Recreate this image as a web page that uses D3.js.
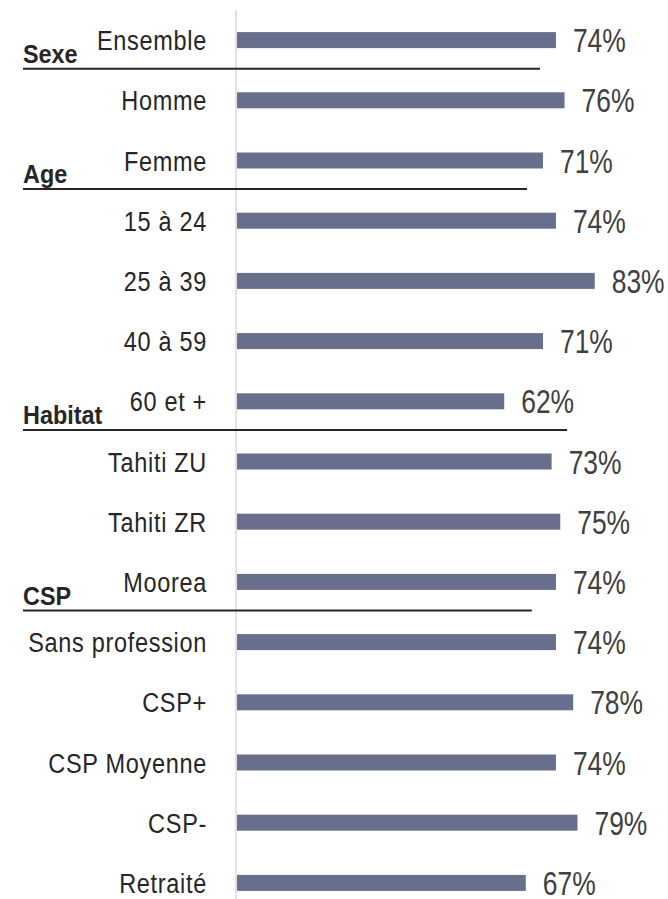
<!DOCTYPE html>
<html lang="fr">

<head>
	<meta charset="UTF-8">
	<script src="https://cdn.jsdelivr.net/npm/d3@7"></script>
	<title>Taux par profil</title>
</head>
<style>
	body {
		margin: 0;
		background: #fff;
		font-family: "Liberation Sans", Arial, sans-serif;
	}

	.label {
		font-size: 27px;
		fill: #262626;
		letter-spacing: 0.8px;
	}

	.value {
		font-size: 33px;
		fill: #404040;
	}

	.group {
		font-size: 26px;
		font-weight: bold;
		fill: #262626;
	}
</style>

<body>
	<svg id="chart" width="668" height="899"></svg>
	<script>
		// categories, top to bottom
		const categories = ['Ensemble', 'Homme', 'Femme', '15 à 24', '25 à 39', '40 à 59', '60 et +',
			'Tahiti ZU', 'Tahiti ZR', 'Moorea', 'Sans profession', 'CSP+', 'CSP Moyenne', 'CSP-', 'Retraité'];
		const values = [74, 76, 71, 74, 83, 71, 62, 73, 75, 74, 74, 78, 74, 79, 67];

		// group headers and the index of the category just above their rule
		const groups = ['Sexe', 'Age', 'Habitat', 'CSP'];
		const groupAfter = [0, 2, 6, 9];
		// where each header rule stops, in % units of the x scale
		const groupRuleEnd = [70.3, 67.3, 76.6, 68.4];

		const width = 668;
		const height = 899;
		const svg = d3.select('#chart');

		const x = d3.scaleLinear().domain([0, 100]).range([237, 668]);
		const y = d3.scalePoint().domain(categories).range([10, 913]).padding(0.5);
		const barH = 16;
		// narrow look: no condensed font installed, so squeeze horizontally
		const narrow = (tx, ty, s) => `translate(${tx},${ty}) scale(${s},1)`;

		// vertical axis line
		svg.append('line')
			.attr('x1', 236).attr('x2', 236)
			.attr('y1', 10).attr('y2', height)
			.attr('stroke', '#d9d9d9')
			.attr('stroke-width', 1.5);

		// bars
		svg.selectAll('rect.bar')
			.data(values)
			.enter()
			.append('rect')
			.attr('class', 'bar')
			.attr('x', x(0))
			.attr('y', (d, i) => y(categories[i]) - barH / 2)
			.attr('width', d => x(d) - x(0))
			.attr('height', barH)
			.attr('fill', '#676f8d');

		// category labels
		svg.selectAll('text.label')
			.data(categories)
			.enter()
			.append('text')
			.attr('class', 'label')
			.attr('transform', d => narrow(207, y(d) + 10, 0.87))
			.attr('text-anchor', 'end')
			.text(d => d);

		// value labels
		svg.selectAll('text.value')
			.data(values)
			.enter()
			.append('text')
			.attr('class', 'value')
			.attr('transform', (d, i) => narrow(x(d) + 17, y(categories[i]) + 12, 0.8))
			.text(d => d + '%');

		// group headers with rules
		groups.forEach((g, i) => {
			const a = y(categories[groupAfter[i]]);
			const b = y(categories[groupAfter[i] + 1]);
			const ly = (a + b) / 2 - 1.5;
			svg.append('line')
				.attr('x1', 23).attr('x2', x(groupRuleEnd[i]))
				.attr('y1', ly).attr('y2', ly)
				.attr('stroke', '#262626')
				.attr('stroke-width', 2);
			svg.append('text')
				.attr('class', 'group')
				.attr('transform', narrow(23, ly - 6, 0.9))
				.text(g);
		});
	</script>
</body>

</html>
